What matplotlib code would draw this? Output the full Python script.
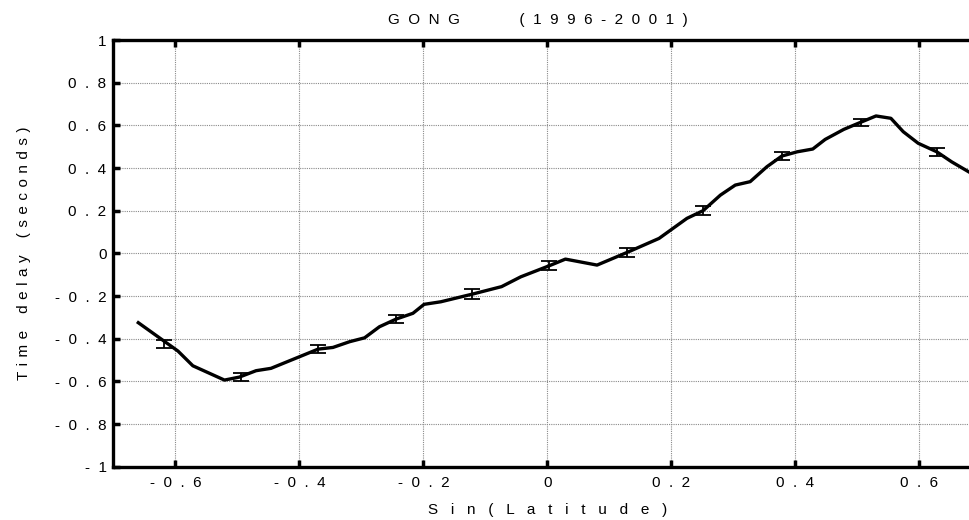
import matplotlib
matplotlib.use("Agg")
import matplotlib.pyplot as plt
from matplotlib.ticker import FuncFormatter

# Curve vertices (sin latitude, time delay in s)
curve_x = [-0.660, -0.596, -0.572, -0.521, -0.497, -0.470, -0.446, -0.370, -0.346,
           -0.319, -0.295, -0.271, -0.244, -0.217, -0.199, -0.172, -0.121, -0.074,
           -0.043, 0.003, 0.029, 0.080, 0.129, 0.180, 0.225, 0.251, 0.279, 0.303,
           0.327, 0.354, 0.378, 0.403, 0.428, 0.448, 0.478, 0.505, 0.530, 0.554,
           0.574, 0.598, 0.628, 0.652, 0.679]
curve_y = [-0.325, -0.458, -0.527, -0.594, -0.580, -0.550, -0.539, -0.449, -0.441,
           -0.414, -0.396, -0.344, -0.308, -0.281, -0.239, -0.227, -0.191, -0.156,
           -0.110, -0.058, -0.027, -0.055, 0.005, 0.070, 0.164, 0.200, 0.273, 0.320,
           0.336, 0.406, 0.456, 0.476, 0.489, 0.534, 0.581, 0.614, 0.644, 0.633,
           0.570, 0.516, 0.476, 0.429, 0.383]

# Error bar points
err_x = [-0.618, -0.494, -0.370, -0.244, -0.121, 0.003, 0.129, 0.251, 0.378, 0.505, 0.628]
err_y = [-0.425, -0.578, -0.449, -0.308, -0.191, -0.058, 0.005, 0.200, 0.456, 0.614, 0.476]
err_v = [0.020, 0.018, 0.020, 0.020, 0.022, 0.020, 0.020, 0.020, 0.020, 0.018, 0.020]

xticks = [-0.6, -0.4, -0.2, 0, 0.2, 0.4, 0.6]
yticks = [-1, -0.8, -0.6, -0.4, -0.2, 0, 0.2, 0.4, 0.6, 0.8, 1]

title_words = ["GONG", "(1996-2001)"]
xlabel = "Sin(Latitude)"
ylabel_words = ["Time", "delay", "(seconds)"]

plt.rcParams['font.family'] = ['Liberation Sans', 'DejaVu Sans']


def spaced(s, sep="  "):
    return sep.join(list(s))


def fmt(v, pos):
    if abs(v) < 1e-9:
        s = "0"
    else:
        s = "%g" % v
    return spaced(s)


fig = plt.figure(figsize=(9.7, 5.2), dpi=100)
ax = fig.add_axes([113.5 / 970, 53.3 / 520, (981.4 - 113.5) / 970, (466.7 - 40) / 520])

ax.plot(curve_x, curve_y, color='black', lw=2.4, solid_joinstyle='round', zorder=3)
ax.errorbar(err_x, err_y, yerr=err_v, fmt='none', ecolor='black', elinewidth=1.3,
            capsize=5.5, capthick=1.3, zorder=4)

ax.set_xlim(-0.7, 0.7)
ax.set_ylim(-1, 1)
ax.set_xticks(xticks)
ax.set_yticks(yticks)
ax.xaxis.set_major_formatter(FuncFormatter(fmt))
ax.yaxis.set_major_formatter(FuncFormatter(fmt))
ax.tick_params(direction='in', length=5, width=2.5, labelsize=11, top=True, right=False,
               pad=5, colors='black')
ax.tick_params(axis='x', pad=7)
ax.grid(True, linestyle=(0, (1, 1)), color='#8a8a8a', lw=0.8)
for side in ['left', 'bottom', 'top']:
    ax.spines[side].set_linewidth(2.4)
ax.spines['right'].set_visible(False)

ax.set_xlabel(spaced(xlabel, "   "), fontsize=11, labelpad=9)
ylab = "    ".join(spaced(w, " \u200a") for w in ylabel_words)
ax.set_ylabel(ylab, fontsize=11, labelpad=17)
ttl = (" " * 14).join(spaced(w, "  ") for w in title_words)
fig.text(537.5 / 970, 1 - 20 / 520, ttl, ha='center', va='center', fontsize=11)

fig.savefig("out.png", dpi=100)
